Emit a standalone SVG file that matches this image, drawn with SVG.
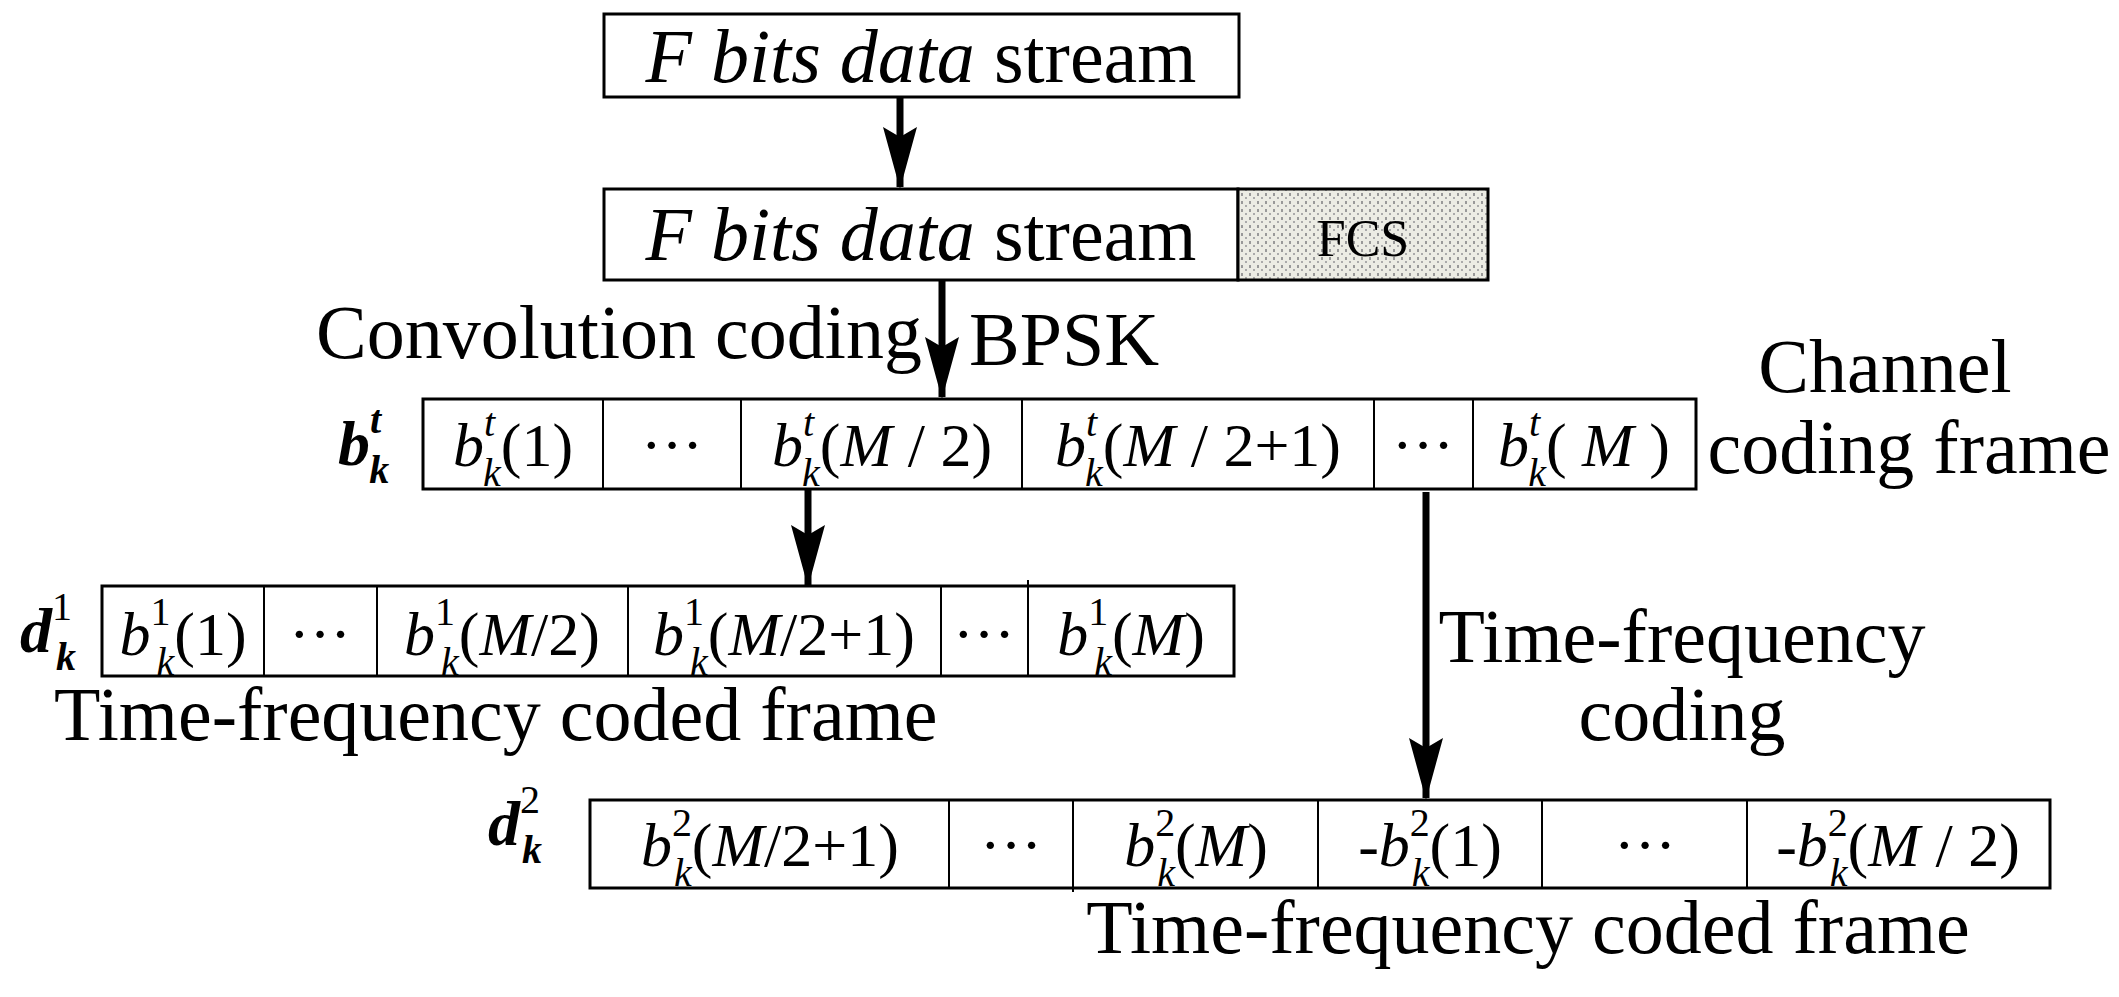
<svg xmlns="http://www.w3.org/2000/svg" width="2119" height="997" viewBox="0 0 2119 997">
<style>
text{font-family:"Liberation Serif","Times New Roman",serif;fill:#000}
.t{font-size:76px}
.c{font-size:62px;text-anchor:middle}
.i{font-style:italic}
.s{font-size:40px}
.box{fill:#fff;stroke:#000;stroke-width:3}
.div{stroke:#000;stroke-width:2}
.ar{stroke:#000;stroke-width:7;fill:none}
.lb{font-size:64px;font-weight:bold;font-style:italic}
</style>
<defs>
<pattern id="dots" width="8" height="8" patternUnits="userSpaceOnUse">
<rect width="8" height="8" fill="#ecece4"/>
<rect x="1" y="1" width="2" height="3" fill="#999"/>
<rect x="5" y="5" width="2" height="2" fill="#aaa"/>
</pattern>
<marker id="ahd" markerUnits="userSpaceOnUse" markerWidth="62" markerHeight="34" refX="60" refY="17" orient="auto" viewBox="0 0 62 34">
<path d="M0,0 L62,17 L0,34 L10,17 Z" fill="#000"/>
</marker>
</defs>

<g id="box1">
<rect class="box" x="604" y="14" width="635" height="83"/>
<text class="t" x="921" y="82" text-anchor="middle"><tspan class="i">F bits data</tspan> stream</text>
</g>

<g id="box2">
<rect class="box" x="604" y="189" width="634" height="91"/>
<rect x="1238" y="189" width="250" height="91" fill="url(#dots)" stroke="#000" stroke-width="3"/>
<text class="t" x="921" y="260" text-anchor="middle"><tspan class="i">F bits data</tspan> stream</text>
<text x="1363" y="256" font-size="52" text-anchor="middle">FCS</text>
</g>

<g id="rowBt">
<rect class="box" x="423" y="399" width="1273" height="90"/>
<line class="div" x1="603" y1="399" x2="603" y2="489"/>
<line class="div" x1="741" y1="399" x2="741" y2="489"/>
<line class="div" x1="1022" y1="399" x2="1022" y2="489"/>
<line class="div" x1="1374" y1="399" x2="1374" y2="489"/>
<line class="div" x1="1473" y1="399" x2="1473" y2="489"/>
<text class="c" x="513" y="466"><tspan class="i">b</tspan><tspan class="s i" dy="-30">t</tspan><tspan class="s i" dx="-12" dy="50">k</tspan><tspan dy="-20">(1)</tspan></text>
<text class="c" x="672" y="466">···</text>
<text class="c" x="882" y="466"><tspan class="i">b</tspan><tspan class="s i" dy="-30">t</tspan><tspan class="s i" dx="-12" dy="50">k</tspan><tspan dy="-20">(</tspan><tspan class="i">M</tspan> / 2)</text>
<text class="c" x="1198" y="466"><tspan class="i">b</tspan><tspan class="s i" dy="-30">t</tspan><tspan class="s i" dx="-12" dy="50">k</tspan><tspan dy="-20">(</tspan><tspan class="i">M</tspan> / 2+1)</text>
<text class="c" x="1423" y="466">···</text>
<text class="c" x="1584" y="466"><tspan class="i">b</tspan><tspan class="s i" dy="-30">t</tspan><tspan class="s i" dx="-12" dy="50">k</tspan><tspan dy="-20">( </tspan><tspan class="i">M</tspan> )</text>
<text class="lb" x="338" y="465">b<tspan class="s" dy="-32">t</tspan><tspan class="s" dx="-12" dy="50">k</tspan></text>
</g>

<g id="rowD1">
<rect class="box" x="102" y="586" width="1132" height="90"/>
<line class="div" x1="264" y1="586" x2="264" y2="676"/>
<line class="div" x1="377" y1="586" x2="377" y2="676"/>
<line class="div" x1="628" y1="586" x2="628" y2="676"/>
<line class="div" x1="941" y1="586" x2="941" y2="676"/>
<line class="div" x1="1028" y1="580" x2="1028" y2="676"/>
<text class="c" x="183" y="655"><tspan class="i">b</tspan><tspan class="s" dy="-30">1</tspan><tspan class="s i" dx="-14" dy="50">k</tspan><tspan dy="-20">(1)</tspan></text>
<text class="c" x="320" y="655">···</text>
<text class="c" x="502" y="655"><tspan class="i">b</tspan><tspan class="s" dy="-30">1</tspan><tspan class="s i" dx="-14" dy="50">k</tspan><tspan dy="-20">(</tspan><tspan class="i">M</tspan>/2)</text>
<text class="c" x="784" y="655"><tspan class="i">b</tspan><tspan class="s" dy="-30">1</tspan><tspan class="s i" dx="-14" dy="50">k</tspan><tspan dy="-20">(</tspan><tspan class="i">M</tspan>/2+1)</text>
<text class="c" x="984" y="655">···</text>
<text class="c" x="1131" y="655"><tspan class="i">b</tspan><tspan class="s" dy="-30">1</tspan><tspan class="s i" dx="-14" dy="50">k</tspan><tspan dy="-20">(</tspan><tspan class="i">M</tspan>)</text>
<text class="lb" x="20" y="652">d<tspan class="s" font-weight="normal" font-style="normal" dy="-32">1</tspan><tspan class="s" dx="-16" dy="50">k</tspan></text>
</g>

<g id="rowD2">
<rect class="box" x="590" y="800" width="1460" height="88"/>
<line class="div" x1="949" y1="800" x2="949" y2="888"/>
<line class="div" x1="1073" y1="800" x2="1073" y2="892"/>
<line class="div" x1="1318" y1="800" x2="1318" y2="888"/>
<line class="div" x1="1542" y1="800" x2="1542" y2="888"/>
<line class="div" x1="1747" y1="800" x2="1747" y2="888"/>
<text class="c" x="770" y="866"><tspan class="i">b</tspan><tspan class="s" dy="-30">2</tspan><tspan class="s i" dx="-18" dy="50">k</tspan><tspan dy="-20">(</tspan><tspan class="i">M</tspan>/2+1)</text>
<text class="c" x="1011" y="866">···</text>
<text class="c" x="1196" y="866"><tspan class="i">b</tspan><tspan class="s" dy="-30">2</tspan><tspan class="s i" dx="-18" dy="50">k</tspan><tspan dy="-20">(</tspan><tspan class="i">M</tspan>)</text>
<text class="c" x="1430" y="866">-<tspan class="i">b</tspan><tspan class="s" dy="-30">2</tspan><tspan class="s i" dx="-18" dy="50">k</tspan><tspan dy="-20">(1)</tspan></text>
<text class="c" x="1645" y="866">···</text>
<text class="c" x="1898" y="866">-<tspan class="i">b</tspan><tspan class="s" dy="-30">2</tspan><tspan class="s i" dx="-18" dy="50">k</tspan><tspan dy="-20">(</tspan><tspan class="i">M</tspan> / 2)</text>
<text class="lb" x="488" y="845">d<tspan class="s" font-weight="normal" font-style="normal" dy="-32">2</tspan><tspan class="s" dx="-18" dy="50">k</tspan></text>
</g>

<g id="labels">
<text class="t" x="316" y="358">Convolution coding</text>
<text class="t" x="969" y="365">BPSK</text>
<text class="t" x="1885" y="392" text-anchor="middle">Channel</text>
<text class="t" x="1909" y="473" text-anchor="middle">coding frame</text>
<text class="t" x="54" y="740">Time-frequency coded frame</text>
<text class="t" x="1682" y="662" text-anchor="middle">Time-frequency</text>
<text class="t" x="1682" y="740" text-anchor="middle">coding</text>
<text class="t" x="1528" y="953" text-anchor="middle">Time-frequency coded frame</text>
</g>

<g id="connectors">
<line class="ar" x1="900" y1="97" x2="900" y2="187" marker-end="url(#ahd)"/>
<line class="ar" x1="942" y1="280" x2="942" y2="397" marker-end="url(#ahd)"/>
<line class="ar" x1="808" y1="489" x2="808" y2="585" marker-end="url(#ahd)"/>
<line class="ar" x1="1426" y1="492" x2="1426" y2="798" marker-end="url(#ahd)"/>
</g>
</svg>
